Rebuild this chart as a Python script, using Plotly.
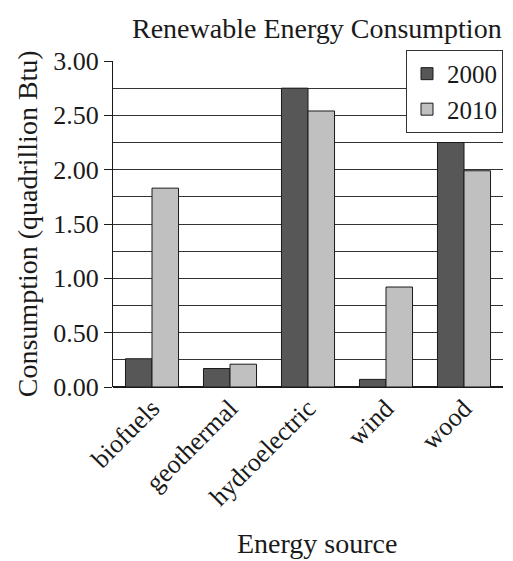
import plotly.graph_objects as go

categories = ["biofuels", "geothermal", "hydroelectric", "wind", "wood"]
values_2000 = [0.26, 0.17, 2.75, 0.07, 2.25]
values_2010 = [1.83, 0.21, 2.54, 0.92, 1.99]
tick_vals = [0.0, 0.5, 1.0, 1.5, 2.0, 2.5, 3.0]
tick_text = ["0.00", "0.50", "1.00", "1.50", "2.00", "2.50", "3.00"]

FONT = "Liberation Serif"

fig = go.Figure()
fig.add_trace(go.Bar(name="2000", x=categories, y=values_2000,
                     marker=dict(color="#575757", line=dict(color="#1a1a1a", width=1))))
fig.add_trace(go.Bar(name="2010", x=categories, y=values_2010,
                     marker=dict(color="#c0c0c0", line=dict(color="#1a1a1a", width=1))))

fig.update_layout(
    width=505, height=553,
    margin=dict(l=105, r=10, t=53, b=174, autoexpand=False),
    paper_bgcolor="white", plot_bgcolor="white",
    barmode="group", bargap=0.32, bargroupgap=0,
    font=dict(family=FONT, size=26, color="#1a1a1a"),
    legend=dict(x=1.0, xanchor="right", y=1.034, yanchor="top",
                bgcolor="white", bordercolor="#333333", borderwidth=1,
                font=dict(family=FONT, size=25), itemwidth=30,
                tracegroupgap=0),
    showlegend=True,
    xaxis=dict(showline=False, ticks="", tickangle=-45, automargin=False,
               tickfont=dict(family=FONT, size=26)),
    yaxis=dict(range=[0, 3.0], tickvals=tick_vals, ticktext=tick_text, automargin=False,
               showline=True, linecolor="#1a1a1a", linewidth=1.2,
               ticks="outside", ticklen=8, tickcolor="#1a1a1a",
               showgrid=True, gridcolor="#333333", gridwidth=1,
               zeroline=True, zerolinecolor="#1a1a1a", zerolinewidth=1.5,
               tickfont=dict(family=FONT, size=26),
               minor=dict(dtick=0.25, showgrid=True, gridcolor="#333333", gridwidth=1, ticks="")),
    annotations=[
        dict(text="Renewable Energy Consumption", xref="paper", yref="paper",
             x=0.523, y=1.1, xanchor="center", yanchor="middle", showarrow=False,
             font=dict(family=FONT, size=28)),
        dict(text="Consumption (quadrillion Btu)", xref="paper", yref="paper",
             x=-0.22, y=0.5, xanchor="center", yanchor="middle", showarrow=False,
             textangle=-90, font=dict(family=FONT, size=28)),
        dict(text="Energy source", xref="paper", yref="paper",
             x=0.523, y=-0.48, xanchor="center", yanchor="middle", showarrow=False,
             font=dict(family=FONT, size=28)),
    ],
)

fig.write_html("out.html")
